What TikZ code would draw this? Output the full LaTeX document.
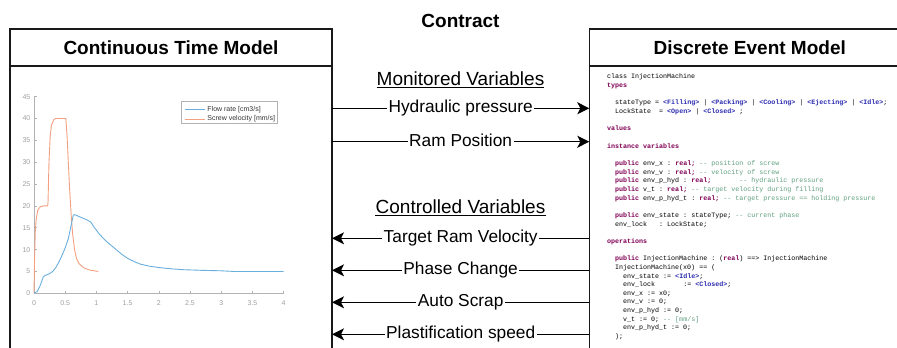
\documentclass[tikz,border=0pt]{standalone}
\usepackage{fontspec}
\setmainfont{Liberation Sans}
\newfontfamily\codefont{Liberation Mono}
\usepackage{xcolor}
\usetikzlibrary{arrows.meta}

\definecolor{kwpurple}{HTML}{7F0055}
\definecolor{litblue}{HTML}{2A2AB0}
\definecolor{cmtgreen}{HTML}{5F9F7F}
\definecolor{flowblue}{HTML}{6AAEDD}
\definecolor{screworange}{HTML}{F2A080}

\newdimen\codecw \codecw=4.002pt
\newcommand\ind[1]{\hspace*{#1\codecw}}
\newcommand\kw[1]{\textcolor{kwpurple}{\bfseries #1}}
\newcommand\lit[1]{\textcolor{litblue}{\bfseries #1}}
\newcommand\cmt[1]{\textcolor{cmtgreen}{#1}}

\tikzset{
  panel/.style={draw=black!90, line width=1.5pt, inner sep=0pt, outer sep=0pt, anchor=north west},
  paneltitle/.style={font=\fontsize{19}{22}\selectfont\bfseries},
  signal/.style={line width=1.3pt, -{Stealth[length=12pt,width=12pt,inset=3pt]}},
  sigtext/.style={fill=white, inner xsep=1.5pt, inner ysep=0pt, text height=12.6pt, text depth=3.6pt, font=\fontsize{17.3}{20}\selectfont},
  grouptext/.style={inner sep=0pt, font=\fontsize{19}{22}\selectfont},
  axisgray/.style={draw=gray!60, line width=0.6pt},
  ticklabel/.style={text=gray!75, inner sep=0pt, font=\fontsize{7}{8}\selectfont},
  legendtext/.style={inner sep=2pt, font=\fontsize{7}{8}\selectfont, text=black!80},
  flowline/.style={draw=flowblue, line width=0.9pt, line join=round},
  screwline/.style={draw=screworange, line width=0.9pt, line join=round},
  codeblock/.style={anchor=north west, inner sep=0pt, align=left, font=\codefont\fontsize{6.67}{8.66}\selectfont\frenchspacing}
}

\begin{document}
\begin{tikzpicture}[x=1pt, y=-1pt]
  \useasboundingbox (0,0) rectangle (897,348) ;
  \clip (0,0) rectangle (897,348) ;

  \node[paneltitle] (contract) at (460.5,20.7) {Contract} ;

  % the two models
  \node[panel, paneltitle, minimum width=322, minimum height=37] (ctmhead) at (10,29) {Continuous Time Model} ;
  \node[panel, minimum width=322, minimum height=330] (ctm) at (ctmhead.south west) {} ;
  \node[panel, paneltitle, minimum width=321, minimum height=37] (demhead) at (589.3,29) {Discrete Event Model} ;
  \node[panel, minimum width=321, minimum height=330] (dem) at (demhead.south west) {} ;

  % monitored variables
  \node[grouptext] (monitored) at (460.5,79) {Monitored Variables} ;
  \draw[line width=1.2pt] ([yshift=-1.8pt]monitored.base west) -- ([yshift=-1.8pt]monitored.base east) ;
  \draw[signal] (ctm.east |- 0,108.3) -- node[sigtext] (hydp) {Hydraulic pressure} (dem.west |- 0,108.3) ;
  \draw[signal] (ctm.east |- 0,141.7) -- node[sigtext] (rampos) {Ram Position} (dem.west |- 0,141.7) ;

  % controlled variables
  \node[grouptext] (controlled) at (460.5,207) {Controlled Variables} ;
  \draw[line width=1.2pt] ([yshift=-1.8pt]controlled.base west) -- ([yshift=-1.8pt]controlled.base east) ;
  \draw[signal] (dem.west |- 0,238.3) -- node[sigtext] (tvel) {Target Ram Velocity} (ctm.east |- 0,238.3) ;
  \draw[signal] (dem.west |- 0,270.3) -- node[sigtext] (phase) {Phase Change} (ctm.east |- 0,270.3) ;
  \draw[signal] (dem.west |- 0,302.3) -- node[sigtext] (scrap) {Auto Scrap} (ctm.east |- 0,302.3) ;
  \draw[signal] (dem.west |- 0,334.3) -- node[sigtext] (plast) {Plastification speed} (ctm.east |- 0,334.3) ;

  % simulation plot
  \begin{scope}[shift={(34,293.3)}, x=62.4pt, y=4.37pt]
    \draw[axisgray] (0,0) -- (0,45) ;
    \draw[axisgray] (0,0) -- (4,0) ;
    \foreach \v in {0,5,...,45} {
      \draw[axisgray] (0,\v) -- ++(2.5pt,0pt) ;
      \node[ticklabel, anchor=east] (ylab\v) at ([xshift=-3.5pt]0,\v) {\v} ;
    }
    \foreach \t in {0,0.5,1,1.5,2,2.5,3,3.5,4} {
      \draw[axisgray] (\t,0) -- ++(0pt,2.5pt) ;
      \node[ticklabel] (xlab\t) at ([yshift=-9.4pt]\t,0) {\t} ;
    }
    \draw[screwline] plot coordinates {(0,0) (0.01,8) (0.02,14) (0.035,17) (0.06,19) (0.1,19.8)
      (0.15,20) (0.22,20) (0.225,21) (0.24,30) (0.26,36) (0.28,38.5) (0.32,39.8) (0.35,40)
      (0.51,40) (0.53,36) (0.55,30) (0.57,24) (0.6,17) (0.62,13.5) (0.65,10) (0.68,8)
      (0.72,6.8) (0.8,5.8) (0.9,5.3) (1.03,5.0)} ;
    \draw[flowline] plot coordinates {(0,0) (0.05,0.4) (0.1,1.8) (0.15,3.8) (0.18,4.1) (0.25,4.5)
      (0.3,5.0) (0.35,5.9) (0.4,7.2) (0.45,8.7) (0.5,10.4) (0.55,12.5) (0.58,14.5) (0.61,16.6)
      (0.63,17.9) (0.65,18) (0.75,17.4) (0.85,16.8) (0.91,16.3) (0.97,15.0) (1.05,13.5)
      (1.15,12.0) (1.3,10.2) (1.4,9.0) (1.5,8.0) (1.6,7.3) (1.7,6.7) (1.85,6.2) (2.0,5.9)
      (2.2,5.6) (2.4,5.4) (2.7,5.25) (3.0,5.15) (3.2,5.0) (4.0,5.0)} ;
  \end{scope}

  % legend
  \draw[axisgray] (181,101.7) rectangle (277.7,123.3) ;
  \draw[flowline] (184.5,109.3) -- (205,109.3) node[legendtext, anchor=west] (flowkey) {Flow rate [cm3/s]} ;
  \draw[screwline] (184.5,119) -- (205,119) node[legendtext, anchor=west] (screwkey) {Screw velocity [mm/s]} ;

  % VDM model text
  \node[codeblock] (vdm) at (607,73.8) {class InjectionMachine\\
\kw{types}\\
\mbox{}\\
\ind{2}stateType = \lit{<Filling>} | \lit{<Packing>} | \lit{<Cooling>} | \lit{<Ejecting>} | \lit{<Idle>};\\
\ind{2}LockState~~= \lit{<Open>} | \lit{<Closed>} ;\\
\mbox{}\\
\kw{values}\\
\mbox{}\\
\kw{instance variables}\\
\mbox{}\\
\ind{2}\kw{public} env\_x : \kw{real;} \cmt{-{}- position of screw}\\
\ind{2}\kw{public} env\_v : \kw{real;} \cmt{-{}- velocity of screw}\\
\ind{2}\kw{public} env\_p\_hyd : \kw{real;}~~~~~~~\cmt{-{}- hydraulic pressure}\\
\ind{2}\kw{public} v\_t : \kw{real;} \cmt{-{}- target velocity during filling}\\
\ind{2}\kw{public} env\_p\_hyd\_t : \kw{real;} \cmt{-{}- target pressure == holding pressure}\\
\mbox{}\\
\ind{2}\kw{public} env\_state : stateType; \cmt{-{}- current phase}\\
\ind{2}env\_lock~~~: LockState;\\
\mbox{}\\
\kw{operations}\\
\mbox{}\\
\ind{2}\kw{public} InjectionMachine : (\kw{real}) ==> InjectionMachine\\
\ind{2}InjectionMachine(x0) == (\\
\ind{4}env\_state := \lit{<Idle>};\\
\ind{4}env\_lock~~~~~~~:= \lit{<Closed>};\\
\ind{4}env\_x := x0;\\
\ind{4}env\_v := 0;\\
\ind{4}env\_p\_hyd := 0;\\
\ind{4}v\_t := 0; \cmt{-{}- [mm/s]}\\
\ind{4}env\_p\_hyd\_t := 0;\\
\ind{2});} ;
\end{tikzpicture}
\end{document}
